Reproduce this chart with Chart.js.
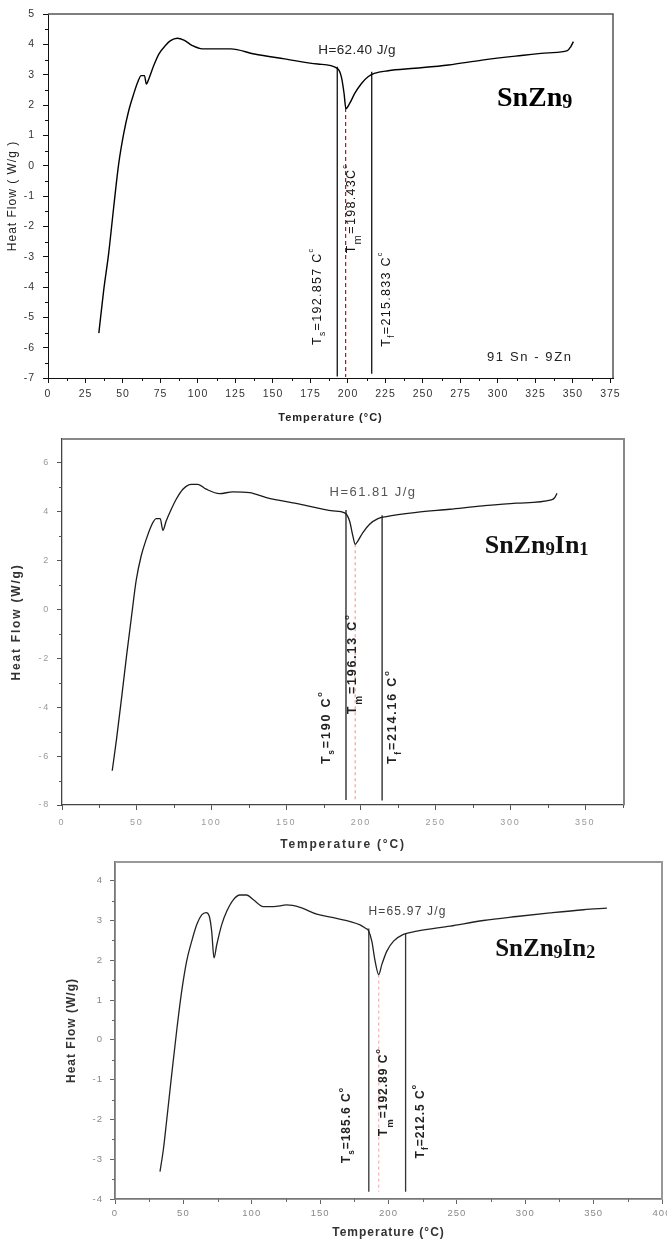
<!DOCTYPE html>
<html>
<head>
<meta charset="utf-8">
<script src="https://cdn.jsdelivr.net/npm/chart.js@4/dist/chart.umd.min.js"></script>
<style>
  html, body { margin: 0; padding: 0; background: #fff; }
  body { width: 667px; height: 1243px; position: relative; overflow: hidden; }
  canvas { position: absolute; left: 0; }
</style>
</head>
<body>
<canvas id="c1" width="667" height="436" style="top:0"></canvas>
<canvas id="c2" width="667" height="420" style="top:436px"></canvas>
<canvas id="c3" width="667" height="387" style="top:856px"></canvas>
<script>
// ---------- SnZn9 DSC trace ----------
const temp1 = [33.9, 37.1, 40.4, 43.8, 47.1, 50.4, 53.8, 57.1, 59.8, 62.1, 64.3, 65.6, 67.2, 70.5, 73.9, 78.3, 81.7, 86.2, 90.6, 96.2, 102.9, 110, 121.9, 137.5, 157.6, 179.9, 192.9, 195.6, 197.4, 198.6, 201.1, 204.5, 209.0, 213.4, 217.5, 226.8, 244.7, 267.0, 289.4, 311.7, 334.0, 346.3, 348.5, 350.3];
const flow1 = [-5.52, -4.12, -2.91, -1.37, 0.05, 1.04, 1.81, 2.36, 2.75, 2.97, 2.97, 2.69, 2.86, 3.30, 3.68, 3.96, 4.12, 4.20, 4.14, 3.96, 3.85, 3.85, 3.85, 3.68, 3.52, 3.35, 3.21, 2.93, 2.38, 1.88, 2.05, 2.38, 2.71, 2.93, 3.04, 3.13, 3.21, 3.32, 3.48, 3.61, 3.72, 3.79, 3.92, 4.09];
const markTemp1 = [192.857, 198.43, 215.833];   // solidus, melting peak, liquidus
const markTop1 = [3.26, 1.9, 3.1];
const markEnd1 = [-6.95, -6.97, -6.86];
const xTicks1 = [0, 25, 50, 75, 100, 125, 150, 175, 200, 225, 250, 275, 300, 325, 350, 375];
const yTicks1 = [-7, -6, -5, -4, -3, -2, -1, 0, 1, 2, 3, 4, 5];

// ---------- SnZn9In1 DSC trace ----------
const temp2 = [33.6, 36.5, 40.0, 43.3, 46.5, 49.7, 53.0, 56.4, 59.7, 63.0, 65.7, 67.5, 69.7, 73.1, 76.4, 80.9, 86.5, 90.9, 96.5, 105.4, 114.3, 125.5, 136.7, 159.0, 181.3, 189.1, 192.4, 194.6, 196.13, 198.0, 201.3, 205.8, 211.4, 217.0, 237.1, 259.4, 281.7, 304.0, 327.4, 329.7, 331.2];
const flow2 = [-6.6, -5.3, -3.55, -1.85, -0.3, 1.2, 2.18, 2.86, 3.40, 3.70, 3.70, 3.22, 3.60, 4.08, 4.49, 4.90, 5.10, 5.10, 4.90, 4.72, 4.79, 4.76, 4.56, 4.29, 4.01, 3.93, 3.60, 2.99, 2.65, 2.79, 3.13, 3.47, 3.70, 3.78, 3.95, 4.08, 4.22, 4.33, 4.46, 4.56, 4.73];
const markTemp2 = [190, 196.13, 214.16];
const markTop2 = [4.05, 2.65, 3.84];
const markEnd2 = [-7.8, -7.8, -7.82];
const xTicks2 = [0, 50, 100, 150, 200, 250, 300, 350];
const yTicks2 = [-8, -6, -4, -2, 0, 2, 4, 6];

// ---------- SnZn9In2 DSC trace ----------
const temp3 = [32.9, 35.4, 37.8, 41.5, 45.1, 48.8, 52.4, 56.1, 59.8, 63.4, 66.6, 69.0, 70.7, 72.4, 74.4, 78.0, 81.7, 86.5, 91.4, 96.3, 101.2, 108.5, 115.8, 125.6, 135.3, 147.5, 159.7, 179.2, 182.9, 185.3, 187.8, 190.2, 192.89, 195.1, 198.8, 203.7, 210.9, 220.7, 245.1, 269.4, 293.8, 318.2, 342.6, 359.7];
const flow3 = [-3.31, -2.75, -2.02, -0.86, 0.23, 1.23, 1.98, 2.48, 2.90, 3.14, 3.20, 3.10, 2.73, 2.06, 2.39, 2.89, 3.23, 3.52, 3.64, 3.64, 3.52, 3.35, 3.35, 3.39, 3.33, 3.16, 3.07, 2.89, 2.81, 2.75, 2.48, 1.98, 1.64, 1.89, 2.23, 2.48, 2.65, 2.73, 2.86, 3.00, 3.10, 3.19, 3.27, 3.31];
const markTemp3 = [185.6, 192.89, 212.5];
const markTop3 = [2.8, 1.64, 2.67];
const markEnd3 = [-3.82, -3.82, -3.82];
const xTicks3 = [0, 50, 100, 150, 200, 250, 300, 350, 400];
const yTicks3 = [-4, -3, -2, -1, 0, 1, 2, 3, 4];

const SANS = "'Liberation Sans', Arial, Helvetica, sans-serif";
const SERIF = "'Liberation Serif', 'Times New Roman', serif";

// Draws a run of text pieces (normal / subscript / superscript) at a data position.
function drawRich(ctx, xs, ys, l) {
  const st = l.st;
  ctx.save();
  ctx.translate(xs.getPixelForValue(l.x), ys.getPixelForValue(l.y));
  if (l.rot) ctx.rotate(-Math.PI / 2);
  ctx.fillStyle = st.color;
  ctx.textAlign = 'left';
  ctx.textBaseline = 'alphabetic';
  ctx.letterSpacing = (st.spacing || 0) + 'px';
  let pos = 0;
  l.parts.forEach(([text, kind, scale, shift]) => {
    let size = st.size, dy = 0;
    if (kind === 'sub') { size *= (scale ?? st.subScale); dy = (shift ?? st.subShift) * st.size; }
    else if (kind === 'sup') { size *= (scale ?? st.supScale); dy = (shift ?? st.supShift) * st.size; }
    ctx.font = `${st.weight} ${size}px ${st.family}`;
    ctx.fillText(text, pos, dy);
    pos += ctx.measureText(text).width;
  });
  ctx.restore();
}

function minorTicks(ctx, scale, area, step, len, horizontal) {
  const majors = scale.ticks.map(t => t.value);
  const n = Math.floor((scale.max - scale.min) / step + 1e-6);
  ctx.beginPath();
  for (let k = 0; k <= n; k++) {
    const v = Math.round((scale.min + k * step) * 1000) / 1000;
    if (majors.some(m => Math.abs(m - v) < 1e-6)) continue;
    const p = Math.round(scale.getPixelForValue(v)) + 0.5;
    if (horizontal) { ctx.moveTo(p, area.bottom); ctx.lineTo(p, area.bottom + len); }
    else { ctx.moveTo(area.left - len, p); ctx.lineTo(area.left, p); }
  }
  ctx.stroke();
}

function makeChart(id, o) {
  const datasets = [{
    data: o.temp.map((t, i) => ({ x: t, y: o.flow[i] })),
    borderColor: o.curveColor, borderWidth: o.curveWidth,
    pointRadius: 0, cubicInterpolationMode: 'monotone'
  }];
  o.markTemp.forEach((t, i) => {
    const melt = i === 1;
    datasets.push({
      data: [{ x: t, y: o.markTop[i] }, { x: t, y: o.markEnd[i] }],
      borderColor: melt ? o.meltColor : o.markColor,
      borderWidth: melt ? o.meltWidth : o.markWidth,
      borderDash: melt ? o.meltDash : [],
      pointRadius: 0
    });
  });

  const decor = {
    id: 'decor',
    beforeDraw(chart) { chart.ctx.letterSpacing = o.spacing + 'px'; },
    afterDraw(chart) {
      const ctx = chart.ctx, a = chart.chartArea, xs = chart.scales.x, ys = chart.scales.y;
      ctx.save();
      ctx.strokeStyle = o.frameColor;
      ctx.lineWidth = o.frameWidth;
      ctx.beginPath();
      ctx.moveTo(a.left, a.top); ctx.lineTo(a.right, a.top); ctx.lineTo(a.right, a.bottom);
      ctx.stroke();
      ctx.strokeStyle = o.tickColor;
      ctx.lineWidth = 1;
      minorTicks(ctx, xs, a, o.xMinor, 3, true);
      minorTicks(ctx, ys, a, o.yMinor, 3, false);
      ctx.restore();
      o.labels.forEach(l => drawRich(ctx, xs, ys, l));
    }
  };

  return new Chart(document.getElementById(id), {
    type: 'line',
    data: { datasets },
    options: {
      responsive: false, animation: false, devicePixelRatio: 1, events: [],
      layout: { padding: { top: o.padTop, right: o.padRight, left: 0, bottom: 0 } },
      plugins: { legend: { display: false }, tooltip: { enabled: false } },
      scales: {
        x: {
          type: 'linear', min: o.xMin, max: o.xMax,
          afterBuildTicks: s => { s.ticks = o.xTicks.map(v => ({ value: v })); },
          afterFit: s => { s.height = o.xAxisH; s.paddingLeft = 0; s.paddingRight = 0; },
          grid: { drawOnChartArea: false, drawTicks: true, tickLength: 5, tickColor: o.tickColor, tickWidth: 1 },
          border: { display: true, color: o.axisColor, width: o.axisWidth },
          ticks: { autoSkip: false, maxRotation: 0, padding: o.xTickPad, color: o.tickLabelColor,
                   font: { family: SANS, size: o.tickSize }, callback: v => String(v) },
          title: { display: true, text: 'Temperature (°C)', color: o.titleColor,
                   font: { family: SANS, size: o.xTitleSize, weight: o.xTitleWeight },
                   padding: { top: 0, bottom: o.xTitlePad } }
        },
        y: {
          type: 'linear', position: 'left', min: o.yMin, max: o.yMax,
          afterBuildTicks: s => { s.ticks = o.yTicks.map(v => ({ value: v })); },
          afterFit: s => { s.width = o.yAxisW; s.paddingTop = 0; s.paddingBottom = 0; },
          grid: { drawOnChartArea: false, drawTicks: true, tickLength: 5, tickColor: o.tickColor, tickWidth: 1 },
          border: { display: true, color: o.axisColor, width: o.axisWidth },
          ticks: { autoSkip: false, padding: o.yTickPad, color: o.tickLabelColor,
                   font: { family: SANS, size: o.tickSize }, callback: v => String(v) },
          title: { display: true, text: o.yTitle, color: o.titleColor,
                   font: { family: SANS, size: 12, weight: o.yTitleWeight },
                   padding: { top: o.yTitlePad, bottom: 0 } }
        }
      }
    },
    plugins: [decor]
  });
}

// ---- label styles ----
const tag1 = { family: SANS, weight: 'normal', size: 12.5, spacing: 1.3, color: '#111', subScale: 0.68, subShift: 0.36, supScale: 0.6, supShift: -0.62 };
const heat1 = { family: SANS, weight: 'normal', size: 13.5, spacing: 0.4, color: '#222' };
const note1 = { family: SANS, weight: 'normal', size: 13, spacing: 1.6, color: '#222' };
const name1 = { family: SERIF, weight: 'bold', size: 28, spacing: 0, color: '#000', subScale: 0.72, subShift: 0.08 };

const tag2 = { family: SANS, weight: 'bold', size: 12.5, spacing: 1.8, color: '#222', subScale: 0.68, subShift: 0.36, supScale: 0.6, supShift: -0.62 };
const heat2 = { family: SANS, weight: 'normal', size: 13, spacing: 1.5, color: '#555' };
const name2 = { family: SERIF, weight: 'bold', size: 26, spacing: 0, color: '#111', subScale: 0.72, subShift: 0.08 };

const tag3 = { family: SANS, weight: 'bold', size: 12, spacing: 1, color: '#222', subScale: 0.68, subShift: 0.36, supScale: 0.6, supShift: -0.62 };
const heat3 = { family: SANS, weight: 'normal', size: 12, spacing: 1.2, color: '#444' };
const name3 = { family: SERIF, weight: 'bold', size: 25, spacing: 0, color: '#111', subScale: 0.72, subShift: 0.08 };

makeChart('c1', {
  temp: temp1, flow: flow1, markTemp: markTemp1, markTop: markTop1, markEnd: markEnd1,
  xTicks: xTicks1, yTicks: yTicks1, xMin: 0, xMax: 376.7, yMin: -7, yMax: 5, xMinor: 12.5, yMinor: 0.5,
  padTop: 14, padRight: 54, yAxisW: 48, xAxisH: 58,
  spacing: 1, tickSize: 10.5, tickLabelColor: '#333', tickColor: '#111',
  axisColor: '#111', axisWidth: 1, frameColor: '#555', frameWidth: 1.5,
  curveColor: '#000', curveWidth: 1.4, markColor: '#111', markWidth: 1.3,
  meltColor: '#e00000', meltWidth: 1.2, meltDash: [4, 3],
  xTickPad: 5, yTickPad: 8, titleColor: '#222',
  xTitleSize: 11, xTitleWeight: 'bold', xTitlePad: 11.4,
  yTitle: 'Heat Flow ( W/g )', yTitleWeight: 'normal', yTitlePad: 5.8,
  labels: [
    { x: 181.8, y: -5.91, rot: true, st: tag1, parts: [['T'], ['s', 'sub'], ['=' + markTemp1[0] + ' C'], ['c', 'sup']] },
    { x: 204.7, y: -2.89, rot: true, st: tag1, parts: [['T'], ['m', 'sub', 0.9, 0.5], ['=' + markTemp1[1] + 'C'], ['c', 'sup']] },
    { x: 228.0, y: -5.97, rot: true, st: tag1, parts: [['T'], ['f', 'sub'], ['=' + markTemp1[2] + ' C'], ['c', 'sup']] },
    { x: 180.2, y: 3.68, st: heat1, parts: [['H=62.40 J/g']] },
    { x: 299.3, y: 1.97, st: name1, parts: [['SnZn'], ['9', 'sub']] },
    { x: 292.7, y: -6.43, st: note1, parts: [['91 Sn - 9Zn']] }
  ]
});

makeChart('c2', {
  temp: temp2, flow: flow2, markTemp: markTemp2, markTop: markTop2, markEnd: markEnd2,
  xTicks: xTicks2, yTicks: yTicks2, xMin: 0, xMax: 376, yMin: -8, yMax: 6.95, xMinor: 25, yMinor: 1,
  padTop: 3, padRight: 43, yAxisW: 62, xAxisH: 51,
  spacing: 1.8, tickSize: 9, tickLabelColor: '#999', tickColor: '#555',
  axisColor: '#444', axisWidth: 1.3, frameColor: '#888', frameWidth: 2,
  curveColor: '#1a1a1a', curveWidth: 1.3, markColor: '#222', markWidth: 1.3,
  meltColor: '#f08a8a', meltWidth: 1, meltDash: [3, 3],
  xTickPad: 7, yTickPad: 7, titleColor: '#333',
  xTitleSize: 12, xTitleWeight: 'bold', xTitlePad: 3.8,
  yTitle: 'Heat Flow (W/g)', yTitleWeight: 'bold', yTitlePad: 9.8,
  labels: [
    { x: 179.0, y: -6.33, rot: true, st: tag2, parts: [['T'], ['s', 'sub'], ['=' + markTemp2[0] + ' C'], ['o', 'sup']] },
    { x: 196.9, y: -4.29, rot: true, st: tag2, parts: [['T'], ['m', 'sub', 0.8, 0.45], ['=' + markTemp2[1] + ' C'], ['o', 'sup']] },
    { x: 223.7, y: -6.33, rot: true, st: tag2, parts: [['T'], ['f', 'sub'], ['=' + markTemp2[2] + ' C'], ['o', 'sup']] },
    { x: 179.0, y: 4.62, st: heat2, parts: [['H=61.81 J/g']] },
    { x: 282.8, y: 2.31, st: name2, parts: [['SnZn'], ['9', 'sub'], ['In'], ['1', 'sub']] }
  ]
});

makeChart('c3', {
  temp: temp3, flow: flow3, markTemp: markTemp3, markTop: markTop3, markEnd: markEnd3,
  xTicks: xTicks3, yTicks: yTicks3, xMin: 0, xMax: 400, yMin: -4, yMax: 4.47, xMinor: 25, yMinor: 0.5,
  padTop: 6, padRight: 5, yAxisW: 115, xAxisH: 44,
  spacing: 1, tickSize: 9.5, tickLabelColor: '#888', tickColor: '#666',
  axisColor: '#777', axisWidth: 1.8, frameColor: '#999', frameWidth: 2,
  curveColor: '#222', curveWidth: 1.3, markColor: '#333', markWidth: 1.3,
  meltColor: '#f4a0a0', meltWidth: 1, meltDash: [3, 3],
  xTickPad: 4, yTickPad: 7, titleColor: '#333',
  xTitleSize: 12, xTitleWeight: 'bold', xTitlePad: 2.8,
  yTitle: 'Heat Flow (W/g)', yTitleWeight: 'bold', yTitlePad: 64.5,
  labels: [
    { x: 171.9, y: -3.1, rot: true, st: tag3, parts: [['T'], ['s', 'sub'], ['=' + markTemp3[0] + ' C'], ['o', 'sup']] },
    { x: 199.2, y: -2.42, rot: true, st: tag3, parts: [['T'], ['m', 'sub', 0.8, 0.45], ['=' + markTemp3[1] + ' C'], ['o', 'sup']] },
    { x: 225.6, y: -2.98, rot: true, st: tag3, parts: [['T'], ['f', 'sub'], ['=' + markTemp3[2] + ' C'], ['o', 'sup']] },
    { x: 185.3, y: 3.15, st: heat3, parts: [['H=65.97 J/g']] },
    { x: 278.0, y: 2.12, st: name3, parts: [['SnZn'], ['9', 'sub'], ['In'], ['2', 'sub']] }
  ]
});
</script>
</body>
</html>
